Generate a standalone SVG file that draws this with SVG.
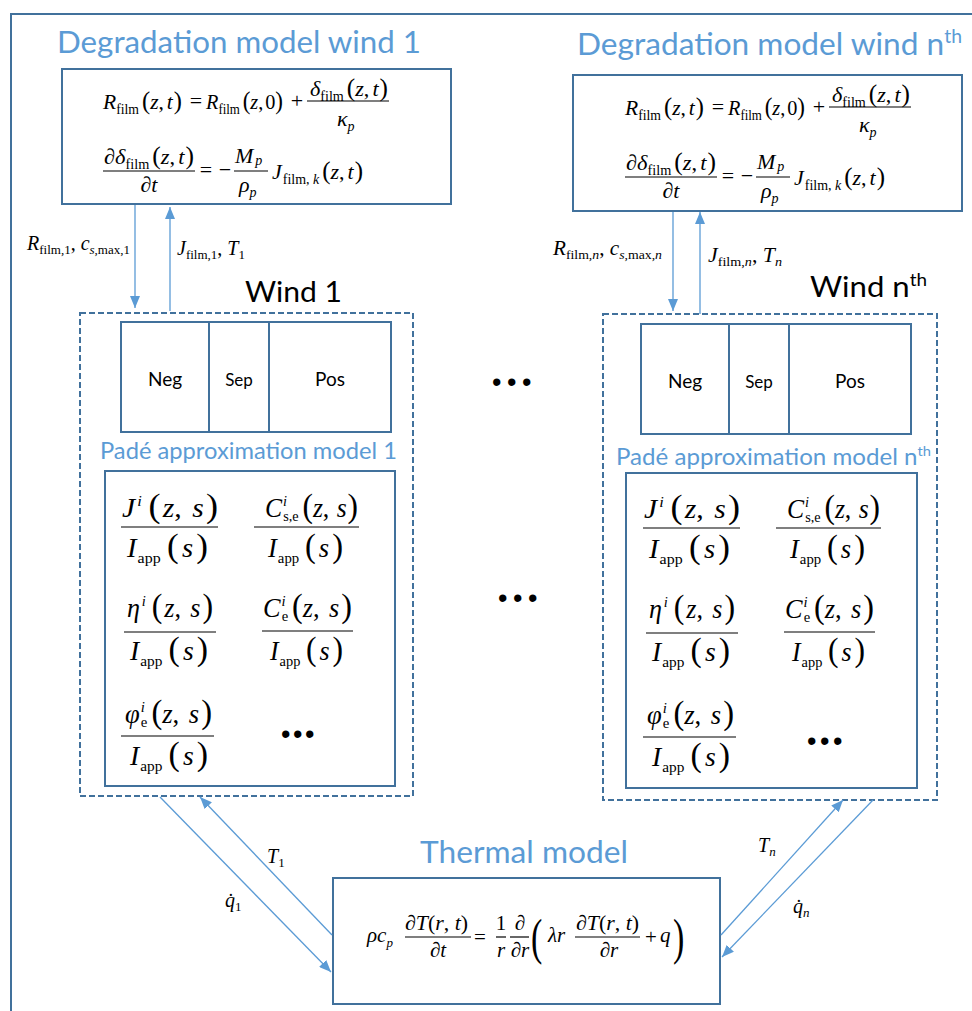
<svg xmlns="http://www.w3.org/2000/svg" width="972" height="1011" viewBox="0 0 972 1011">
<style>
.ttl{font-family:Lato,"Open Sans",sans-serif;fill:#5B9BD5}
.blk{font-family:Lato,"Open Sans",sans-serif;fill:#000}
.m{font-family:"Liberation Serif","Times New Roman",serif;font-style:italic;font-size:22px;fill:#000}
.pd{font-size:27px}
.th{font-size:21px}
.lb{font-size:20px}
.rm{font-style:normal}
.sb{font-style:normal;font-size:14px}
.si{font-style:italic;font-size:14px}
.sbp{font-style:normal;font-size:15px}
.sip{font-style:italic;font-size:15px}
.sl{font-style:normal;font-size:13px}
.sli{font-style:italic;font-size:13px}
.p{font-style:normal;font-size:25px}
.pp{font-style:normal;font-size:33px}
.box{fill:#fff;stroke:#41719C;stroke-width:2}
.dash{fill:none;stroke:#41719C;stroke-width:2;stroke-dasharray:6 3}
.bar{stroke:#000;stroke-width:1.2}
.arr{stroke:#5B9BD5;stroke-width:1.3;fill:none;marker-end:url(#ah)}
.dots{font-family:"Liberation Sans",Arial,sans-serif;font-size:27px;fill:#000}
</style>
<defs>
<marker id="ah" viewBox="0 0 12 10" refX="12" refY="5" markerWidth="12" markerHeight="10" markerUnits="userSpaceOnUse" orient="auto">
<path d="M0,0 L12,5 L0,10 Z" fill="#5B9BD5"/>
</marker>
</defs>
<rect width="972" height="1011" fill="#fff"/>
<g id="frame"><path d="M11,1011 V14 H972" fill="none" stroke="#41719C" stroke-width="2"/></g>

<g id="deg1">
<text class="ttl" x="57" y="53" font-size="31" textLength="364" lengthAdjust="spacingAndGlyphs">Degradation model wind 1</text>
<rect class="box" x="62" y="69" width="389" height="135"/>
<g id="deg1-eq">
<text class="m" x="103" y="109" textLength="79" lengthAdjust="spacingAndGlyphs">R<tspan class="sb" dy="5">film</tspan><tspan class="p" dx="3" dy="-5">(</tspan>z<tspan class="rm">,</tspan><tspan dx="3">t</tspan><tspan class="p" dx="1">)</tspan></text>
<text class="m rm" x="196" y="108" text-anchor="middle">=</text>
<text class="m" x="206" y="109" textLength="77" lengthAdjust="spacingAndGlyphs">R<tspan class="sb" dy="5">film</tspan><tspan class="p" dx="3" dy="-5">(</tspan>z<tspan class="rm">,</tspan><tspan class="rm" dx="2">0</tspan><tspan class="p">)</tspan></text>
<text class="m rm" x="297" y="108" text-anchor="middle">+</text>
<text class="m" x="310" y="96" textLength="78" lengthAdjust="spacingAndGlyphs">δ<tspan class="sb" dy="5">film</tspan><tspan class="p" dx="3" dy="-5">(</tspan>z<tspan class="rm">,</tspan><tspan dx="3">t</tspan><tspan class="p" dx="1">)</tspan></text>
<line class="bar" x1="307" y1="101" x2="389" y2="101"/>
<text class="m" x="337" y="126">κ<tspan class="si" dy="5">p</tspan></text>
<text class="m" x="104" y="164" textLength="90" lengthAdjust="spacingAndGlyphs">∂δ<tspan class="sb" dy="5">film</tspan><tspan class="p" dx="3" dy="-5">(</tspan>z<tspan class="rm">,</tspan><tspan dx="3">t</tspan><tspan class="p" dx="1">)</tspan></text>
<line class="bar" x1="103" y1="171" x2="195" y2="171"/>
<text class="m" x="149" y="192" text-anchor="middle">∂t</text>
<text class="m rm" x="206" y="177" text-anchor="middle">=</text>
<text class="m rm" x="225" y="177" text-anchor="middle">−</text>
<text class="m" x="235" y="163">M<tspan class="si" dx="2" dy="2">p</tspan></text>
<line class="bar" x1="234" y1="171" x2="268" y2="171"/>
<text class="m" x="239" y="192">ρ<tspan class="si" dy="5">p</tspan></text>
<text class="m" x="272" y="179" textLength="91" lengthAdjust="spacingAndGlyphs">J<tspan class="sb" dx="1" dy="5">film, </tspan><tspan class="si">k</tspan><tspan class="p" dx="3" dy="-5">(</tspan>z<tspan class="rm">,</tspan><tspan dx="3">t</tspan><tspan class="p" dx="1">)</tspan></text>
</g>
</g>

<g id="degN">
<text class="ttl" x="577" y="55" font-size="31" textLength="385" lengthAdjust="spacingAndGlyphs">Degradation model wind n<tspan font-size="19" dy="-12">th</tspan></text>
<rect class="box" x="573" y="75" width="389" height="136"/>
<g id="degN-eq" transform="translate(522,6)">
<text class="m" x="103" y="109" textLength="79" lengthAdjust="spacingAndGlyphs">R<tspan class="sb" dy="5">film</tspan><tspan class="p" dx="3" dy="-5">(</tspan>z<tspan class="rm">,</tspan><tspan dx="3">t</tspan><tspan class="p" dx="1">)</tspan></text>
<text class="m rm" x="196" y="108" text-anchor="middle">=</text>
<text class="m" x="206" y="109" textLength="77" lengthAdjust="spacingAndGlyphs">R<tspan class="sb" dy="5">film</tspan><tspan class="p" dx="3" dy="-5">(</tspan>z<tspan class="rm">,</tspan><tspan class="rm" dx="2">0</tspan><tspan class="p">)</tspan></text>
<text class="m rm" x="297" y="108" text-anchor="middle">+</text>
<text class="m" x="310" y="96" textLength="78" lengthAdjust="spacingAndGlyphs">δ<tspan class="sb" dy="5">film</tspan><tspan class="p" dx="3" dy="-5">(</tspan>z<tspan class="rm">,</tspan><tspan dx="3">t</tspan><tspan class="p" dx="1">)</tspan></text>
<line class="bar" x1="307" y1="101" x2="389" y2="101"/>
<text class="m" x="337" y="126">κ<tspan class="si" dy="5">p</tspan></text>
<text class="m" x="104" y="164" textLength="90" lengthAdjust="spacingAndGlyphs">∂δ<tspan class="sb" dy="5">film</tspan><tspan class="p" dx="3" dy="-5">(</tspan>z<tspan class="rm">,</tspan><tspan dx="3">t</tspan><tspan class="p" dx="1">)</tspan></text>
<line class="bar" x1="103" y1="171" x2="195" y2="171"/>
<text class="m" x="149" y="192" text-anchor="middle">∂t</text>
<text class="m rm" x="206" y="177" text-anchor="middle">=</text>
<text class="m rm" x="225" y="177" text-anchor="middle">−</text>
<text class="m" x="235" y="163">M<tspan class="si" dx="2" dy="2">p</tspan></text>
<line class="bar" x1="234" y1="171" x2="268" y2="171"/>
<text class="m" x="239" y="192">ρ<tspan class="si" dy="5">p</tspan></text>
<text class="m" x="272" y="179" textLength="91" lengthAdjust="spacingAndGlyphs">J<tspan class="sb" dx="1" dy="5">film, </tspan><tspan class="si">k</tspan><tspan class="p" dx="3" dy="-5">(</tspan>z<tspan class="rm">,</tspan><tspan dx="3">t</tspan><tspan class="p" dx="1">)</tspan></text>
</g>
</g>

<g id="wind1">
<text class="blk" x="245" y="302" font-size="28" textLength="97" lengthAdjust="spacingAndGlyphs">Wind 1</text>
<rect class="dash" x="80" y="313" width="333" height="483"/>
<g id="cell1">
<rect class="box" x="121" y="322" width="270" height="110"/>
<line x1="209" y1="322" x2="209" y2="432" stroke="#41719C" stroke-width="2"/>
<line x1="269" y1="322" x2="269" y2="432" stroke="#41719C" stroke-width="2"/>
<text class="blk" x="165" y="386" font-size="19" text-anchor="middle">Neg</text>
<text class="blk" x="239" y="386" font-size="17" text-anchor="middle">Sep</text>
<text class="blk" x="330" y="386" font-size="19" text-anchor="middle">Pos</text>
</g>
<g id="pade1">
<text class="ttl" x="100" y="459" font-size="23" textLength="297" lengthAdjust="spacingAndGlyphs">Padé approximation model 1</text>
<rect class="box" x="105" y="471" width="290" height="315"/>
<g id="pade1-eq">
<text class="m pd" x="122" y="517" textLength="96" lengthAdjust="spacingAndGlyphs">J<tspan class="sip" dx="2" dy="-11">i</tspan><tspan class="pp" dx="6" dy="11">(</tspan><tspan dx="2">z</tspan><tspan class="rm">, </tspan><tspan dx="3">s</tspan><tspan class="pp" dx="2">)</tspan></text>
<line class="bar" x1="121" y1="527" x2="218" y2="527"/>
<text class="m pd" x="127" y="557" textLength="81" lengthAdjust="spacingAndGlyphs">I<tspan class="sbp" dx="1" dy="6">app</tspan><tspan class="pp" dx="6" dy="-6">(</tspan><tspan dx="3">s</tspan><tspan class="pp" dx="3">)</tspan></text>
<text class="m pd" x="265" y="517" textLength="93" lengthAdjust="spacingAndGlyphs">C<tspan class="sip" dx="1" dy="-11">i</tspan><tspan class="sbp" dx="-4" dy="15">s,e</tspan><tspan class="pp" dx="4" dy="-4">(</tspan>z<tspan class="rm">, </tspan><tspan dx="1">s</tspan><tspan class="pp" dx="1">)</tspan></text>
<line class="bar" x1="254" y1="527" x2="359" y2="527"/>
<text class="m pd" x="268" y="557" textLength="75" lengthAdjust="spacingAndGlyphs">I<tspan class="sbp" dx="1" dy="6">app</tspan><tspan class="pp" dx="6" dy="-6">(</tspan><tspan dx="3">s</tspan><tspan class="pp" dx="3">)</tspan></text>
<text class="m pd" x="127" y="617" textLength="86" lengthAdjust="spacingAndGlyphs">η<tspan class="sip" dx="2" dy="-11">i</tspan><tspan class="pp" dx="6" dy="11">(</tspan><tspan dx="2">z</tspan><tspan class="rm">, </tspan><tspan dx="3">s</tspan><tspan class="pp" dx="2">)</tspan></text>
<line class="bar" x1="124" y1="632" x2="216" y2="632"/>
<text class="m pd" x="130" y="660" textLength="78" lengthAdjust="spacingAndGlyphs">I<tspan class="sbp" dx="1" dy="6">app</tspan><tspan class="pp" dx="6" dy="-6">(</tspan><tspan dx="3">s</tspan><tspan class="pp" dx="3">)</tspan></text>
<text class="m pd" x="263" y="617" textLength="89" lengthAdjust="spacingAndGlyphs">C<tspan class="sip" dx="1" dy="-11">i</tspan><tspan class="sbp" dx="-4" dy="15">e</tspan><tspan class="pp" dx="4" dy="-4">(</tspan>z<tspan class="rm">, </tspan><tspan dx="3">s</tspan><tspan class="pp" dx="2">)</tspan></text>
<line class="bar" x1="262" y1="631" x2="353" y2="631"/>
<text class="m pd" x="270" y="660" textLength="73" lengthAdjust="spacingAndGlyphs">I<tspan class="sbp" dx="1" dy="6">app</tspan><tspan class="pp" dx="6" dy="-6">(</tspan><tspan dx="3">s</tspan><tspan class="pp" dx="3">)</tspan></text>
<text class="m pd" x="125" y="723" textLength="87" lengthAdjust="spacingAndGlyphs">φ<tspan class="sip" dx="1" dy="-11">i</tspan><tspan class="sbp" dx="-4" dy="15">e</tspan><tspan class="pp" dx="4" dy="-4">(</tspan>z<tspan class="rm">, </tspan><tspan dx="3">s</tspan><tspan class="pp" dx="2">)</tspan></text>
<line class="bar" x1="121" y1="736" x2="214" y2="736"/>
<text class="m pd" x="130" y="765" textLength="78" lengthAdjust="spacingAndGlyphs">I<tspan class="sbp" dx="1" dy="6">app</tspan><tspan class="pp" dx="6" dy="-6">(</tspan><tspan dx="3">s</tspan><tspan class="pp" dx="3">)</tspan></text>
</g>
<text class="dots" x="281" y="743" letter-spacing="2.5">•••</text>
</g>
</g>

<g id="windN">
<text class="blk" x="810" y="297" font-size="28" textLength="117" lengthAdjust="spacingAndGlyphs">Wind n<tspan font-size="17" dy="-11">th</tspan></text>
<rect class="dash" x="603" y="314" width="334" height="486"/>
<g id="cellN">
<rect class="box" x="641" y="324" width="270" height="110"/>
<line x1="729" y1="324" x2="729" y2="434" stroke="#41719C" stroke-width="2"/>
<line x1="789" y1="324" x2="789" y2="434" stroke="#41719C" stroke-width="2"/>
<text class="blk" x="685" y="388" font-size="19" text-anchor="middle">Neg</text>
<text class="blk" x="759" y="388" font-size="17" text-anchor="middle">Sep</text>
<text class="blk" x="850" y="388" font-size="19" text-anchor="middle">Pos</text>
</g>
<g id="padeN">
<text class="ttl" x="616" y="465" font-size="23" textLength="315" lengthAdjust="spacingAndGlyphs">Padé approximation model n<tspan font-size="14" dy="-9">th</tspan></text>
<rect class="box" x="626" y="473" width="291" height="315"/>
<g id="padeN-eq" transform="translate(522,1)">
<text class="m pd" x="122" y="517" textLength="96" lengthAdjust="spacingAndGlyphs">J<tspan class="sip" dx="2" dy="-11">i</tspan><tspan class="pp" dx="6" dy="11">(</tspan><tspan dx="2">z</tspan><tspan class="rm">, </tspan><tspan dx="3">s</tspan><tspan class="pp" dx="2">)</tspan></text>
<line class="bar" x1="121" y1="527" x2="218" y2="527"/>
<text class="m pd" x="127" y="557" textLength="81" lengthAdjust="spacingAndGlyphs">I<tspan class="sbp" dx="1" dy="6">app</tspan><tspan class="pp" dx="6" dy="-6">(</tspan><tspan dx="3">s</tspan><tspan class="pp" dx="3">)</tspan></text>
<text class="m pd" x="265" y="517" textLength="93" lengthAdjust="spacingAndGlyphs">C<tspan class="sip" dx="1" dy="-11">i</tspan><tspan class="sbp" dx="-4" dy="15">s,e</tspan><tspan class="pp" dx="4" dy="-4">(</tspan>z<tspan class="rm">, </tspan><tspan dx="1">s</tspan><tspan class="pp" dx="1">)</tspan></text>
<line class="bar" x1="254" y1="527" x2="359" y2="527"/>
<text class="m pd" x="268" y="557" textLength="75" lengthAdjust="spacingAndGlyphs">I<tspan class="sbp" dx="1" dy="6">app</tspan><tspan class="pp" dx="6" dy="-6">(</tspan><tspan dx="3">s</tspan><tspan class="pp" dx="3">)</tspan></text>
<text class="m pd" x="127" y="617" textLength="86" lengthAdjust="spacingAndGlyphs">η<tspan class="sip" dx="2" dy="-11">i</tspan><tspan class="pp" dx="6" dy="11">(</tspan><tspan dx="2">z</tspan><tspan class="rm">, </tspan><tspan dx="3">s</tspan><tspan class="pp" dx="2">)</tspan></text>
<line class="bar" x1="124" y1="632" x2="216" y2="632"/>
<text class="m pd" x="130" y="660" textLength="78" lengthAdjust="spacingAndGlyphs">I<tspan class="sbp" dx="1" dy="6">app</tspan><tspan class="pp" dx="6" dy="-6">(</tspan><tspan dx="3">s</tspan><tspan class="pp" dx="3">)</tspan></text>
<text class="m pd" x="263" y="617" textLength="89" lengthAdjust="spacingAndGlyphs">C<tspan class="sip" dx="1" dy="-11">i</tspan><tspan class="sbp" dx="-4" dy="15">e</tspan><tspan class="pp" dx="4" dy="-4">(</tspan>z<tspan class="rm">, </tspan><tspan dx="3">s</tspan><tspan class="pp" dx="2">)</tspan></text>
<line class="bar" x1="262" y1="631" x2="353" y2="631"/>
<text class="m pd" x="270" y="660" textLength="73" lengthAdjust="spacingAndGlyphs">I<tspan class="sbp" dx="1" dy="6">app</tspan><tspan class="pp" dx="6" dy="-6">(</tspan><tspan dx="3">s</tspan><tspan class="pp" dx="3">)</tspan></text>
<text class="m pd" x="125" y="723" textLength="87" lengthAdjust="spacingAndGlyphs">φ<tspan class="sip" dx="1" dy="-11">i</tspan><tspan class="sbp" dx="-4" dy="15">e</tspan><tspan class="pp" dx="4" dy="-4">(</tspan>z<tspan class="rm">, </tspan><tspan dx="3">s</tspan><tspan class="pp" dx="2">)</tspan></text>
<line class="bar" x1="121" y1="736" x2="214" y2="736"/>
<text class="m pd" x="130" y="765" textLength="78" lengthAdjust="spacingAndGlyphs">I<tspan class="sbp" dx="1" dy="6">app</tspan><tspan class="pp" dx="6" dy="-6">(</tspan><tspan dx="3">s</tspan><tspan class="pp" dx="3">)</tspan></text>
</g>
<text class="dots" x="807" y="750" letter-spacing="3.5">•••</text>
</g>
</g>

<g id="ellipsis">
<text class="dots" x="492" y="391" letter-spacing="5.5">•••</text>
<text class="dots" x="498" y="607" letter-spacing="5.5">•••</text>
</g>

<g id="thermal">
<text class="ttl" x="420" y="863" font-size="31" textLength="208" lengthAdjust="spacingAndGlyphs">Thermal model</text>
<rect class="box" x="333" y="878" width="387" height="126"/>
<text class="m th" x="367" y="942">ρc<tspan class="sli" dy="5">p</tspan></text>
<text class="m th" x="405" y="930" textLength="63" lengthAdjust="spacingAndGlyphs">∂T<tspan class="rm">(</tspan>r<tspan class="rm">, </tspan>t<tspan class="rm">)</tspan></text>
<line class="bar" x1="405" y1="937" x2="471" y2="937"/>
<text class="m th" x="438" y="957" text-anchor="middle">∂t</text>
<text class="m th rm" x="480" y="944" text-anchor="middle">=</text>
<text class="m th rm" x="501" y="930" text-anchor="middle">1</text>
<line class="bar" x1="496" y1="937" x2="506" y2="937"/>
<text class="m th" x="501" y="957" text-anchor="middle">r</text>
<text class="m th" x="520" y="930" text-anchor="middle">∂</text>
<line class="bar" x1="510" y1="937" x2="529" y2="937"/>
<text class="m th" x="520" y="957" text-anchor="middle">∂r</text>
<text class="m rm" style="font-size:34px" transform="translate(531,954) scale(1,1.5)">(</text>
<text class="m th" x="548" y="942">λr</text>
<text class="m th" x="576" y="930" textLength="63" lengthAdjust="spacingAndGlyphs">∂T<tspan class="rm">(</tspan>r<tspan class="rm">, </tspan>t<tspan class="rm">)</tspan></text>
<line class="bar" x1="575" y1="937" x2="640" y2="937"/>
<text class="m th" x="609" y="957" text-anchor="middle">∂r</text>
<text class="m th rm" x="651" y="944" text-anchor="middle">+</text>
<text class="m th" x="660" y="942">q</text>
<text class="m rm" style="font-size:34px" transform="translate(673,954) scale(1,1.5)">)</text>
</g>

<g id="connectors">
<line class="arr" x1="135" y1="205" x2="135" y2="308"/>
<line class="arr" x1="170" y1="311" x2="170" y2="207"/>
<line class="arr" x1="673" y1="212" x2="673" y2="311"/>
<line class="arr" x1="700" y1="314" x2="700" y2="212"/>
<line class="arr" x1="160" y1="797" x2="331" y2="972"/>
<line class="arr" x1="332" y1="935" x2="200" y2="797"/>
<line class="arr" x1="721" y1="935" x2="843" y2="800"/>
<line class="arr" x1="873" y1="800" x2="722" y2="957"/>
<text class="m lb" x="27" y="250" textLength="103" lengthAdjust="spacingAndGlyphs">R<tspan class="sl" dy="4">film,1</tspan><tspan class="rm" dy="-4">, </tspan>c<tspan class="sli" dy="4">s</tspan><tspan class="sl">,max,1</tspan></text>
<text class="m lb" x="177" y="255" textLength="68" lengthAdjust="spacingAndGlyphs">J<tspan class="sl" dy="4">film,1</tspan><tspan class="rm" dy="-4">, </tspan>T<tspan class="sl" dy="4">1</tspan></text>
<text class="m lb" x="553" y="255" textLength="109" lengthAdjust="spacingAndGlyphs">R<tspan class="sl" dy="4">film,</tspan><tspan class="sli">n</tspan><tspan class="rm" dy="-4">, </tspan>c<tspan class="sli" dy="4">s</tspan><tspan class="sl">,max,</tspan><tspan class="sli">n</tspan></text>
<text class="m lb" x="708" y="262" textLength="74" lengthAdjust="spacingAndGlyphs">J<tspan class="sl" dy="4">film,</tspan><tspan class="sli">n</tspan><tspan class="rm" dy="-4">, </tspan>T<tspan class="sli" dy="4">n</tspan></text>
<text class="m lb" x="267" y="863">T<tspan class="sl" dy="4">1</tspan></text>
<text class="m lb" x="225" y="907">q&#775;<tspan class="sl" dy="4">1</tspan></text>
<text class="m lb" x="758" y="852">T<tspan class="sli" dy="4">n</tspan></text>
<text class="m lb" x="793" y="913">q&#775;<tspan class="sli" dy="4">n</tspan></text>
</g>
</svg>
